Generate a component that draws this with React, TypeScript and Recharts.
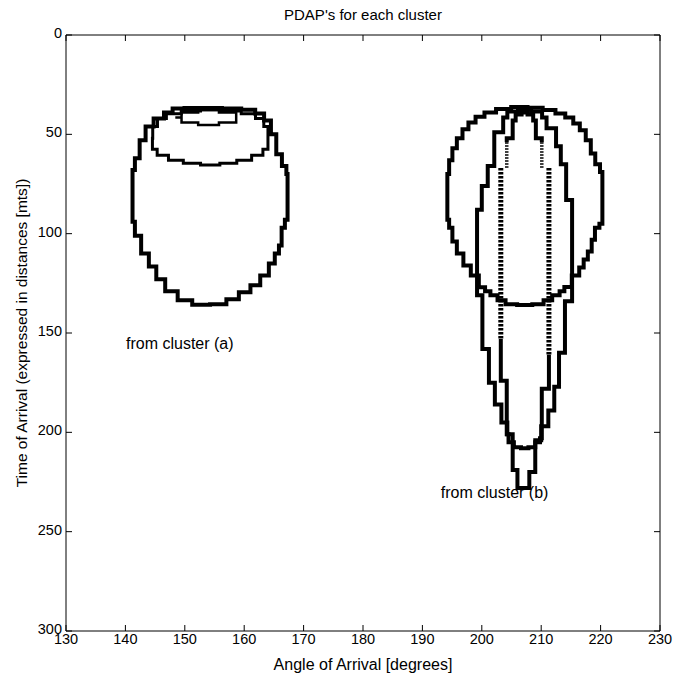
import React from 'react';
import { ComposedChart, Line, Scatter, XAxis, YAxis, Label } from 'recharts';

type P = [number, number];

const xTicks = [130, 140, 150, 160, 170, 180, 190, 200, 210, 220, 230];
const yTicks = [0, 50, 100, 150, 200, 250, 300];
const titleText = "PDAP's for each cluster";
const xLabelText = 'Angle of Arrival [degrees]';
const yLabelText = 'Time of Arrival (expressed in distances [mts])';

// Cluster (a) contours (angle [deg], time [mts])
const clusterAOuter: P[] = [
  [148.4, 37], [151.5, 36.8], [154.5, 36.7], [158, 37], [161, 37.6], [162.7, 39.5], [164, 43], [165, 50],
  [165.8, 60], [166.9, 66], [167.3, 70], [167.3, 93], [166.4, 97], [166.2, 106], [165.5, 110], [164.8, 115],
  [163.5, 121], [161.9, 126], [160.2, 129.5], [158, 133], [156, 135.5], [152.5, 135.8], [150, 133.5],
  [147.6, 129], [145.8, 123], [144.6, 116.5], [143.3, 110], [142, 101], [141.2, 94], [141.2, 68], [142, 62],
  [142.8, 53], [144, 46], [145.5, 42], [147.5, 39], [148.4, 37],
];
const clusterAMiddle: P[] = [
  [154.3, 37.6], [158, 38.2], [161, 39.7], [162.8, 42], [163.8, 46], [164.2, 52], [163.8, 57.5], [162.5, 60.5],
  [160, 63], [157.5, 64.6], [154.3, 65.4], [151, 64.6], [148.5, 63], [146, 60.5], [144.7, 57.5], [144.4, 52],
  [144.8, 46], [146, 42], [147.8, 39.7], [151, 38.2], [154.3, 37.6],
];
const clusterAInner: P[] = [
  [148.4, 41.5], [150.5, 39], [154, 37.8], [157.5, 39], [159.8, 41.5], [157.5, 44], [154, 45.3], [150.5, 44], [148.4, 41.5],
];

// Cluster (b) contours
const clusterBOuter: P[] = [
  [206.4, 36.2], [209, 36.6], [211.5, 37.8], [213.3, 39.5], [214.8, 41.5], [216, 44.5], [217, 48], [218, 53],
  [218.7, 59.6], [219.5, 65], [220.3, 69], [220.3, 95], [219.3, 97], [218.8, 103], [218.2, 109], [217.5, 113],
  [216.8, 117], [216, 121], [214.3, 126.8], [213.5, 129], [212.7, 131], [211, 133.5], [209.8, 135.5],
  [207.2, 135.9], [204.7, 135.5], [203.3, 133.5], [202, 131], [200.9, 129], [200.2, 127], [198.8, 121],
  [197.5, 116], [196.3, 110], [195.3, 104], [194.8, 97], [194.2, 93], [194.2, 70],
  [194.8, 63], [195.3, 57], [196.3, 52], [197.2, 47.5], [198.3, 44], [199.6, 41.2], [201.3, 39], [203.5, 37.3],
  [206.4, 36.2],
];
const clusterBFunnel: P[] = [
  [207.2, 37.5], [205, 38.5], [203.6, 41.5], [203.6, 49], [202.1, 49], [202.1, 66], [201, 66], [201, 76], [200, 76],
  [200, 88], [199.2, 88], [199.2, 131], [200.1, 131], [200.1, 158], [201.2, 158], [201.2, 175], [202.2, 175],
  [202.2, 186], [203.3, 186], [203.3, 195], [204.3, 195], [204.3, 201], [205.2, 201], [205.2, 219], [206, 219],
  [206, 228], [208, 228], [208, 220], [209, 220], [209, 204], [210, 204], [210, 197], [211.2, 197], [211.2, 189],
  [212.2, 189], [212.2, 177], [213, 177], [213, 160], [214, 160], [214, 134], [215.2, 134], [215.2, 83],
  [214.2, 83], [214.2, 65], [213.3, 65], [213.3, 56], [212.5, 56], [212.5, 47], [210.9, 47], [210.9, 41.5],
  [209.4, 38.5], [207.2, 37.5],
];
const clusterBInnerTop: P[] = [
  [204.2, 54], [204.2, 52], [205.2, 52], [205.2, 43], [206.2, 40], [207.2, 39], [208.2, 40], [209.1, 43],
  [209.1, 52], [210.1, 52], [210.1, 54],
];
const clusterBInnerLower: P[] = [
  [203.2, 153], [203.2, 174], [204.2, 174], [204.2, 201], [204.8, 205], [206, 207.5], [207.2, 208], [208.5, 207.5],
  [209.5, 205], [210.1, 203], [210.1, 178], [211.3, 178], [211.3, 161],
];
const clusterBDashUpperLeft: P[] = [[204.2, 54], [204.2, 67]];
const clusterBDashLeft: P[] = [[203.2, 67], [203.2, 153]];
const clusterBDashUpperRight: P[] = [[210.1, 54], [210.1, 67]];
const clusterBDashRight: P[] = [[211.3, 67], [211.3, 161]];

const annotationX = [140.1, 193.1];
const annotationY = [155, 230];
const annotationText = ['from cluster (a)', 'from cluster (b)'];

const toPts = (a: P[]) => a.map(([x, y]) => ({ x, y }));

const series = [
  { key: 'aOuter', data: clusterAOuter, w: 4, dash: undefined as string | undefined },
  { key: 'aMiddle', data: clusterAMiddle, w: 3, dash: undefined },
  { key: 'aInner', data: clusterAInner, w: 2.5, dash: undefined },
  { key: 'bOuter', data: clusterBOuter, w: 4, dash: undefined },
  { key: 'bFunnel', data: clusterBFunnel, w: 4, dash: undefined },
  { key: 'bInnerTop', data: clusterBInnerTop, w: 4, dash: undefined },
  { key: 'bInnerLower', data: clusterBInnerLower, w: 4, dash: undefined },
  { key: 'bDashUL', data: clusterBDashUpperLeft, w: 3.5, dash: '1.5 1.5' },
  { key: 'bDashL', data: clusterBDashLeft, w: 5, dash: '2.5 1.5' },
  { key: 'bDashUR', data: clusterBDashUpperRight, w: 3.5, dash: '1.5 1.5' },
  { key: 'bDashR', data: clusterBDashRight, w: 5, dash: '2.5 1.5' },
];

const annotations = annotationX.map((x, i) => ({ x, y: annotationY[i], label: annotationText[i] }));

const FONT = "'Liberation Sans', Arial, Helvetica, sans-serif";
const TICK_FS = 14.5;
const TICK_LEN = 6;

const BottomTick = (props: any) => {
  const { x, y, payload } = props;
  return (
    <g>
      <line x1={x} y1={y} x2={x} y2={y - TICK_LEN} stroke="#000" strokeWidth={1} />
      <text x={x} y={y + 2.5} dy="0.71em" textAnchor="middle" fontSize={TICK_FS} fontFamily={FONT} fill="#000">
        {payload.value}
      </text>
    </g>
  );
};
const TopTick = (props: any) => {
  const { x, y } = props;
  return <line x1={x} y1={y} x2={x} y2={y + TICK_LEN} stroke="#000" strokeWidth={1} />;
};
const LeftTick = (props: any) => {
  const { x, y, payload } = props;
  return (
    <g>
      <line x1={x} y1={y} x2={x + TICK_LEN} y2={y} stroke="#000" strokeWidth={1} />
      <text x={x - 4} y={y - 2} dy="0.35em" textAnchor="end" fontSize={TICK_FS} fontFamily={FONT} fill="#000">
        {payload.value}
      </text>
    </g>
  );
};
const RightTick = (props: any) => {
  const { x, y } = props;
  return <line x1={x} y1={y} x2={x - TICK_LEN} y2={y} stroke="#000" strokeWidth={1} />;
};

const renderXLabel = (props: any) => {
  const vb = props.viewBox || {};
  return (
    <text x={vb.x + vb.width / 2} y={vb.y + 39} textAnchor="middle" fontSize={16} fontFamily={FONT} fill="#000">
      {xLabelText}
    </text>
  );
};
const renderTitle = (props: any) => {
  const vb = props.viewBox || {};
  return (
    <text x={vb.x + vb.width / 2} y={vb.y - 14} textAnchor="middle" fontSize={15} fontFamily={FONT} fill="#000">
      {titleText}
    </text>
  );
};
const renderYLabel = (props: any) => {
  const vb = props.viewBox || {};
  const cx = vb.x + 27;
  const cy = vb.y + vb.height / 2;
  return (
    <text x={cx} y={cy} transform={`rotate(-90 ${cx} ${cy})`} textAnchor="middle" fontSize={15.5} fontFamily={FONT} fill="#000">
      {yLabelText}
    </text>
  );
};

const AnnotationShape = (props: any) => {
  const { cx, cy, payload } = props;
  return (
    <text x={cx} y={cy} dy="0.35em" textAnchor="start" fontSize={16} fontFamily={FONT} fill="#000">
      {payload.label}
    </text>
  );
};

export default function App() {
  return (
    <div style={{ position: 'absolute', left: 0, top: 0, width: 675, height: 681, background: '#fff' }}>
      <ComposedChart width={675} height={681} margin={{ top: 34, right: 14, bottom: 0, left: 0 }}>
        <XAxis
          xAxisId="b"
          dataKey="x"
          type="number"
          domain={[130, 230]}
          ticks={xTicks}
          interval={0}
          allowDataOverflow
          orientation="bottom"
          height={50}
          stroke="#000"
          tickLine={false}
          tickSize={0}
          tickMargin={0}
          tick={BottomTick}
        >
          <Label content={renderXLabel} />
        </XAxis>
        <XAxis
          xAxisId="t"
          dataKey="x"
          type="number"
          domain={[130, 230]}
          ticks={xTicks}
          interval={0}
          allowDataOverflow
          orientation="top"
          height={1}
          stroke="#000"
          tickLine={false}
          tickSize={0}
          tickMargin={0}
          tick={TopTick}
        >
          <Label content={renderTitle} />
        </XAxis>
        <YAxis
          yAxisId="l"
          dataKey="y"
          type="number"
          domain={[0, 300]}
          reversed
          ticks={yTicks}
          interval={0}
          allowDataOverflow
          orientation="left"
          width={66}
          stroke="#000"
          tickLine={false}
          tickSize={0}
          tickMargin={0}
          tick={LeftTick}
        >
          <Label content={renderYLabel} />
        </YAxis>
        <YAxis
          yAxisId="r"
          dataKey="y"
          type="number"
          domain={[0, 300]}
          reversed
          ticks={yTicks}
          interval={0}
          allowDataOverflow
          orientation="right"
          width={1}
          stroke="#000"
          tickLine={false}
          tickSize={0}
          tickMargin={0}
          tick={RightTick}
        />
        {series.map((s) => (
          <Line
            key={s.key}
            xAxisId="b"
            yAxisId="l"
            data={toPts(s.data)}
            dataKey="y"
            type="step"
            stroke="#000"
            strokeWidth={s.w}
            strokeDasharray={s.dash}
            strokeLinejoin="miter"
            strokeLinecap="butt"
            dot={false}
            activeDot={false}
            isAnimationActive={false}
            legendType="none"
          />
        ))}
        <Line
          xAxisId="t"
          yAxisId="r"
          data={toPts([[130, 0], [230, 300]])}
          dataKey="y"
          stroke="none"
          strokeWidth={0}
          dot={false}
          activeDot={false}
          isAnimationActive={false}
          legendType="none"
        />
        <Scatter
          xAxisId="b"
          yAxisId="l"
          data={annotations}
          dataKey="y"
          shape={AnnotationShape}
          isAnimationActive={false}
        />
      </ComposedChart>
    </div>
  );
}
